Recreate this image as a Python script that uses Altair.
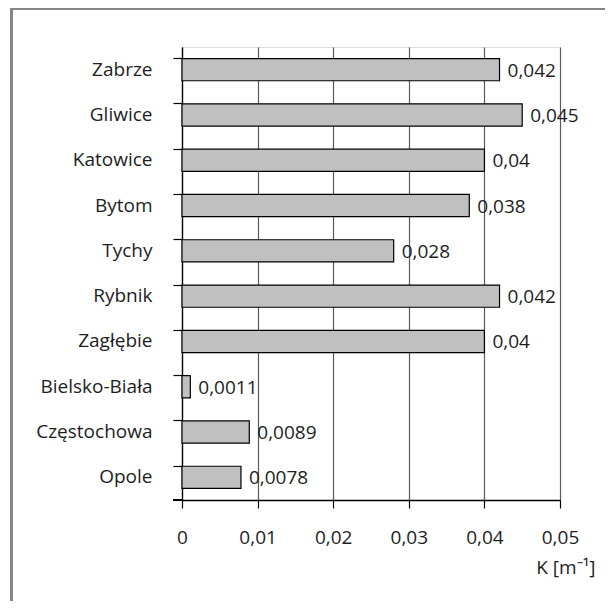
import altair as alt
import pandas as pd

cities = ["Zabrze", "Gliwice", "Katowice", "Bytom", "Tychy", "Rybnik",
          "Zagłębie", "Bielsko-Biała", "Częstochowa", "Opole"]
values = [0.042, 0.045, 0.04, 0.038, 0.028, 0.042, 0.04, 0.0011, 0.0089, 0.0078]
tick_values = [0, 0.01, 0.02, 0.03, 0.04, 0.05]
x_title = "K [m⁻¹]"

df = pd.DataFrame({
    "city": cities,
    "K": values,
    "label": [str(v).replace(".", ",") for v in values],
})

W, H = 378, 453
FONT = "Open Sans"
FS = 19
TXT = "#1e1e1e"

x_scale = alt.Scale(domain=[0, 0.05], nice=False, zero=True)
y_sort = cities

base = alt.Chart(df)

bars = base.mark_bar(fill="#c0c0c0", stroke="#000000", strokeWidth=1.2).encode(
    x=alt.X("K:Q", scale=x_scale,
            axis=alt.Axis(values=tick_values, grid=True, gridColor="#5a5a5a", gridWidth=1.2,
                          domainColor="#000000", domainWidth=1.3,
                          tickColor="#000000", tickSize=8, tickWidth=1.2,
                          labelExpr="replace(toString(datum.value), '.', ',')",
                          labelFlush=False, labelOverlap=False,
                          labelFont=FONT, labelFontSize=FS, labelColor=TXT,
                          labelBaseline="alphabetic", labelPadding=35,
                          title=x_title, titleFont=FONT, titleFontSize=FS,
                          titleFontWeight="normal", titleColor=TXT,
                          titleAlign="right", titleBaseline="alphabetic",
                          titleX=413, titleY=73)),
    y=alt.Y("city:N", sort=y_sort,
            scale=alt.Scale(paddingInner=0.51, paddingOuter=0.255),
            axis=alt.Axis(title=None, bandPosition=0, grid=False,
                          domainColor="#000000", domainWidth=1.3,
                          tickColor="#000000", tickSize=9, tickWidth=1.2,
                          labelFont=FONT, labelFontSize=FS, labelColor=TXT,
                          labelPadding=21)),
)

texts = base.mark_text(align="left", baseline="middle", dx=8, dy=1,
                       font=FONT, fontSize=FS, color=TXT).encode(
    x=alt.X("K:Q", scale=x_scale),
    y=alt.Y("city:N", sort=y_sort),
    text="label:N",
)

ext = alt.Chart(df).mark_rule(color="#000000", strokeWidth=1.3).encode(
    x=alt.value(-9), x2=alt.value(0), y=alt.value(H)
)

border = alt.Chart(df).mark_rect(fill=None, stroke="#858585", strokeWidth=2, clip=False).encode(
    x=alt.value(-170.5), x2=alt.value(700), y=alt.value(-38.5), y2=alt.value(900)
)

chart = alt.layer(border, bars, texts, ext).properties(
    width=W, height=H,
    autosize=alt.AutoSizeParams(type="none"),
    padding={"left": 174, "top": 39, "right": 45, "bottom": 101},
).configure_view(stroke=None).configure(background="white")

chart.save("out.html", embed_options={"renderer": "svg", "actions": False})
